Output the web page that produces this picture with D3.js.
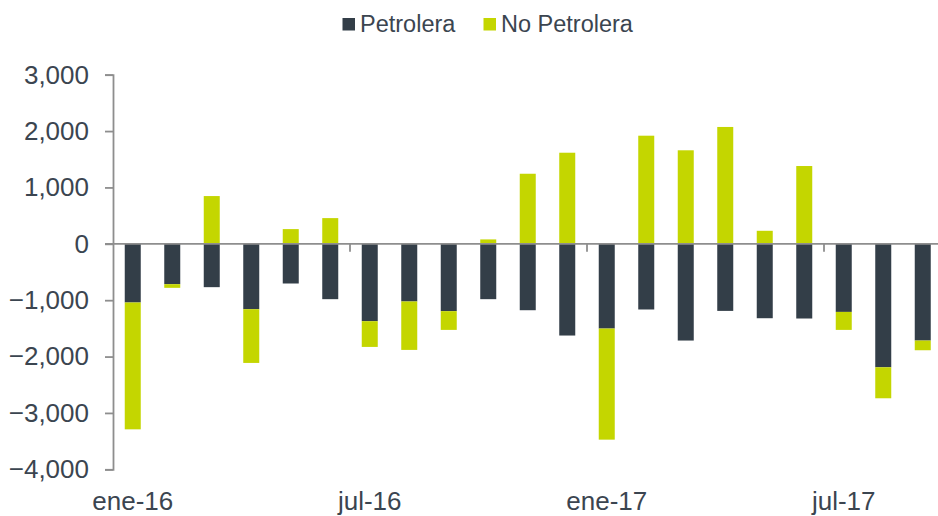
<!DOCTYPE html>
<html>
<head>
<meta charset="utf-8">
<script src="https://cdn.jsdelivr.net/npm/d3@7"></script>
<style>
  body { margin: 0; background: #fff; }
  svg { display: block; font-family: "Liberation Sans", Arial, sans-serif; }
</style>
</head>
<body>
<svg id="chart" width="938" height="516"></svg>
<script>
// months ene-16 .. sep-17
const months = ["ene-16","feb-16","mar-16","abr-16","may-16","jun-16","jul-16","ago-16","sep-16","oct-16","nov-16","dic-16",
                "ene-17","feb-17","mar-17","abr-17","may-17","jun-17","jul-17","ago-17","sep-17"];
const petrolera   = [-1041,-716,-769,-1160,-704,-982,-1373,-1023,-1195,-982,-1178,-1627,-1503,-1165,-1716,-1190,-1320,-1325,-1208,-2190,-1716];
const noPetrolera = [-2250,-65,847,-953,261,456,-456,-859,-332,78,1243,1616,-1971,1918,1659,2073,231,1380,-319,-550,-172];
const seriesNames = ["Petrolera", "No Petrolera"];
const seriesColors = ["#333e48", "#c4d600"];
const yTicks = [3000, 2000, 1000, 0, -1000, -2000, -3000, -4000];
const xLabelMonths = ["ene-16", "jul-16", "ene-17", "jul-17"];

const svg = d3.select("#chart");
const textColor = "#3b4550";
const axisColor = "#8e8e8e";

const rows = months.map((m, i) => ({ month: m, "Petrolera": petrolera[i], "No Petrolera": noPetrolera[i] }));
const stacked = d3.stack().keys(seriesNames).offset(d3.stackOffsetDiverging)(rows);

const x = d3.scaleBand().domain(months).range([113, 942.5]).paddingInner(0.595).paddingOuter(0.2975);
const y = d3.scaleLinear().domain([-4000, 3000]).range([469.3, 74.7]);
const color = d3.scaleOrdinal().domain(seriesNames).range(seriesColors);

// bars
svg.append("g").selectAll("g").data(stacked).join("g")
    .attr("fill", d => color(d.key))
    .selectAll("rect").data(d => d).join("rect")
    .attr("x", d => x(d.data.month))
    .attr("width", x.bandwidth())
    .attr("y", d => y(Math.max(d[0], d[1])))
    .attr("height", d => Math.abs(y(d[0]) - y(d[1])));

// y axis
const yAxis = svg.append("g").attr("transform", "translate(113,0)")
    .call(d3.axisLeft(y).tickValues(yTicks).tickSize(8).tickPadding(16).tickFormat(d3.format(",")));
yAxis.select(".domain").attr("stroke", axisColor).attr("stroke-width", 1.8);
yAxis.selectAll(".tick line").attr("stroke", axisColor).attr("stroke-width", 1.8);
yAxis.selectAll(".tick text").attr("fill", textColor).style("font-size", "26px")
    .style("font-family", "'Liberation Sans', Arial, sans-serif");

// zero line
svg.append("line")
    .attr("x1", 105).attr("x2", 938)
    .attr("y1", y(0)).attr("y2", y(0))
    .attr("stroke", axisColor).attr("stroke-width", 1.8);

// category boundary ticks every 6 months
const half = x.step() * x.paddingInner() / 2;
[6, 12, 18].forEach(i => {
    const bx = x(months[i]) - half;
    svg.append("line").attr("x1", bx).attr("x2", bx)
        .attr("y1", y(0)).attr("y2", y(0) + 8)
        .attr("stroke", axisColor).attr("stroke-width", 1.8);
});

// x labels
svg.append("g").selectAll("text").data(xLabelMonths).join("text")
    .attr("x", d => x(d) + x.bandwidth() / 2)
    .attr("y", 510)
    .attr("text-anchor", "middle")
    .attr("fill", textColor)
    .style("font-size", "26px")
    .text(d => d);

// legend
const legend = svg.append("g");
const legendItems = [{ name: "Petrolera", x: 342.5 }, { name: "No Petrolera", x: 483.5 }];
legendItems.forEach(it => {
    legend.append("rect").attr("x", it.x).attr("y", 18).attr("width", 12.5).attr("height", 12.5)
        .attr("fill", color(it.name));
    legend.append("text").attr("x", it.x + 17.5).attr("y", 31.5)
        .attr("fill", textColor).style("font-size", "23.5px").text(it.name);
});
</script>
</body>
</html>
